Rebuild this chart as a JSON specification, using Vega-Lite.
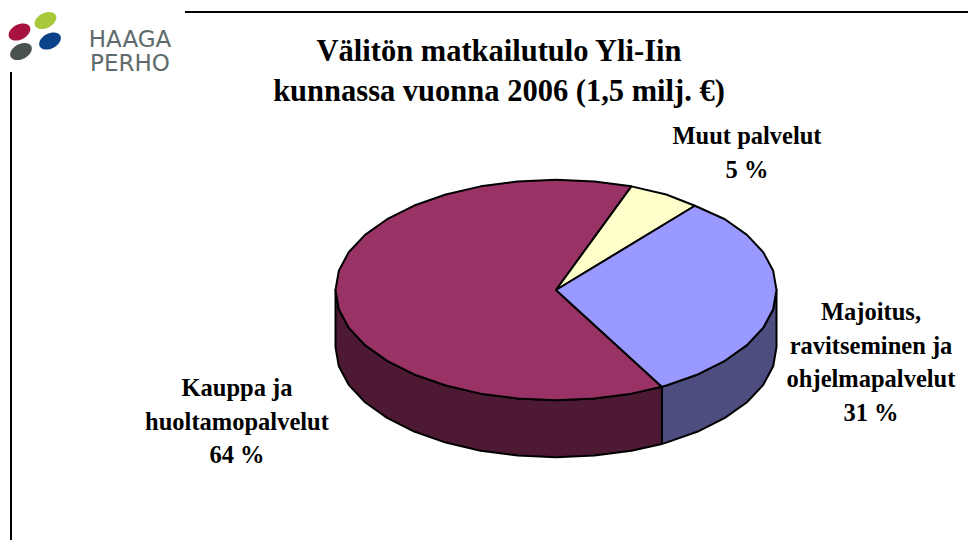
{"$schema":"https://vega.github.io/schema/vega-lite/v6.json","width":968,"height":540,"autosize":{"type":"none"},"padding":0,"background":"white","view":{"stroke":null},
"title":{"text":["Välitön matkailutulo Yli-Iin","kunnassa vuonna 2006 (1,5 milj. €)"],"font":"Liberation Serif","fontWeight":"bold","fontSize":30.5,"lineHeight":40,"color":"black","anchor":"middle","frame":"group","dx":15,"offset":-137,"baseline":"bottom"},
"layer":[
{"data":{"values":[{"x":185,"x2":968,"y":12,"y2":12,"line":"top"},{"x":11,"x2":11,"y":72,"y2":540,"line":"left"}]},"mark":{"type":"rule","stroke":"black","strokeWidth":2},"encoding":{"x":{"field":"x","type":"quantitative","scale":{"domain":[0,968],"range":[0,968]},"axis":null},"x2":{"field":"x2"},"y":{"field":"y","type":"quantitative","scale":{"domain":[0,540],"range":[0,540]},"axis":null},"y2":{"field":"y2"}}},
{"data":{"values":[
{"type":"Feature","properties":{"segment":"Majoitus, ravitseminen ja ohjelmapalvelut","share":31,"part":"Majoitus side"},"geometry":{"type":"Polygon","coordinates":[[[100,0],[98.5,8.7],[94,17.1],[86.6,25],[76.6,32.1],[64.3,38.3],[50,43.3],[48,43.9],[48,69.8],[50,69.2],[64.3,64.2],[76.6,58],[86.6,50.9],[94,43],[98.5,34.6],[100,25.9],[100,0]]]}},
{"type":"Feature","properties":{"segment":"Kauppa ja huoltamopalvelut","share":64,"part":"Kauppa side"},"geometry":{"type":"Polygon","coordinates":[[[48,43.9],[34.2,47],[17.4,49.2],[0,50],[-17.4,49.2],[-34.2,47],[-50,43.3],[-64.3,38.3],[-76.6,32.1],[-86.6,25],[-94,17.1],[-98.5,8.7],[-100,0],[-100,25.9],[-98.5,34.6],[-94,43],[-86.6,50.9],[-76.6,58],[-64.3,64.2],[-50,69.2],[-34.2,72.9],[-17.4,75.1],[0,75.9],[17.4,75.1],[34.2,72.9],[48,69.8],[48,43.9]]]}},
{"type":"Feature","properties":{"segment":"Kauppa ja huoltamopalvelut","share":64,"part":"Kauppa"},"geometry":{"type":"Polygon","coordinates":[[[0,0],[48,43.9],[34.2,47],[17.4,49.2],[0,50],[-17.4,49.2],[-34.2,47],[-50,43.3],[-64.3,38.3],[-76.6,32.1],[-86.6,25],[-94,17.1],[-98.5,8.7],[-100,0],[-98.5,-8.7],[-94,-17.1],[-86.6,-25],[-76.6,-32.1],[-64.3,-38.3],[-50,-43.3],[-34.2,-47],[-17.4,-49.2],[0,-50],[17.4,-49.2],[34.2,-47],[0,0]]]}},
{"type":"Feature","properties":{"segment":"Muut palvelut","share":5,"part":"Muut"},"geometry":{"type":"Polygon","coordinates":[[[0,0],[34.2,-47],[50,-43.3],[63,-38.2],[0,0]]]}},
{"type":"Feature","properties":{"segment":"Majoitus, ravitseminen ja ohjelmapalvelut","share":31,"part":"Majoitus"},"geometry":{"type":"Polygon","coordinates":[[[0,0],[63,-38.2],[76.6,-32.1],[86.6,-25],[94,-17.1],[98.5,-8.7],[100,0],[98.5,8.7],[94,17.1],[86.6,25],[76.6,32.1],[64.3,38.3],[50,43.3],[48,43.9],[0,0]]]}}
]},"projection":{"type":"identity","scale":2.205,"translate":[556,290]},"mark":{"type":"geoshape","stroke":"black","strokeWidth":2,"strokeJoin":"round"},"encoding":{"color":{"field":"properties.part","type":"nominal","legend":null,"scale":{"domain":["Kauppa","Kauppa side","Majoitus","Majoitus side","Muut"],"range":["#993366","#4d1933","#9999ff","#4d4d80","#ffffcc"]}}}},
{"data":{"values":[{"label":"Muut palvelut\n5 %","x":747,"y":137},{"label":"Majoitus,\nravitseminen ja\nohjelmapalvelut\n31 %","x":871,"y":313},{"label":"Kauppa ja\nhuoltamopalvelut\n64 %","x":237,"y":389}]},"mark":{"type":"text","font":"Liberation Serif","fontWeight":"bold","fontSize":24.5,"lineHeight":33.5,"lineBreak":"\n","align":"center","baseline":"middle","color":"black"},"encoding":{"x":{"field":"x","type":"quantitative","scale":{"domain":[0,968],"range":[0,968]},"axis":null},"y":{"field":"y","type":"quantitative","scale":{"domain":[0,540],"range":[0,540]},"axis":null},"text":{"field":"label"}}},
{"data":{"values":[{"blob":"red","x":19.5,"y":32},{"blob":"green","x":45.5,"y":20.5},{"blob":"dark","x":21,"y":51.5},{"blob":"blue","x":50,"y":41}]},"mark":{"type":"point","filled":true,"opacity":1,"shape":"M -1 0 A 1 0.65 0 1 1 1 0 A 1 0.65 0 1 1 -1 0 Z","size":540,"angle":-28},"encoding":{"x":{"field":"x","type":"quantitative","scale":{"domain":[0,968],"range":[0,968]},"axis":null},"y":{"field":"y","type":"quantitative","scale":{"domain":[0,540],"range":[0,540]},"axis":null},"color":{"field":"blob","type":"nominal","legend":null,"scale":{"domain":["red","green","dark","blue"],"range":["#a8123f","#a9c83c","#4a5252","#0c4289"]}}}},
{"data":{"values":[{"label":"HAAGA\nPERHO","x":130,"y":40}]},"mark":{"type":"text","font":"DejaVu Sans","fontSize":23,"lineHeight":24,"lineBreak":"\n","align":"center","baseline":"middle","color":"#5f6b6b"},"encoding":{"x":{"field":"x","type":"quantitative","scale":{"domain":[0,968],"range":[0,968]},"axis":null},"y":{"field":"y","type":"quantitative","scale":{"domain":[0,540],"range":[0,540]},"axis":null},"text":{"field":"label"}}}
],"resolve":{"scale":{"color":"independent"}}}
